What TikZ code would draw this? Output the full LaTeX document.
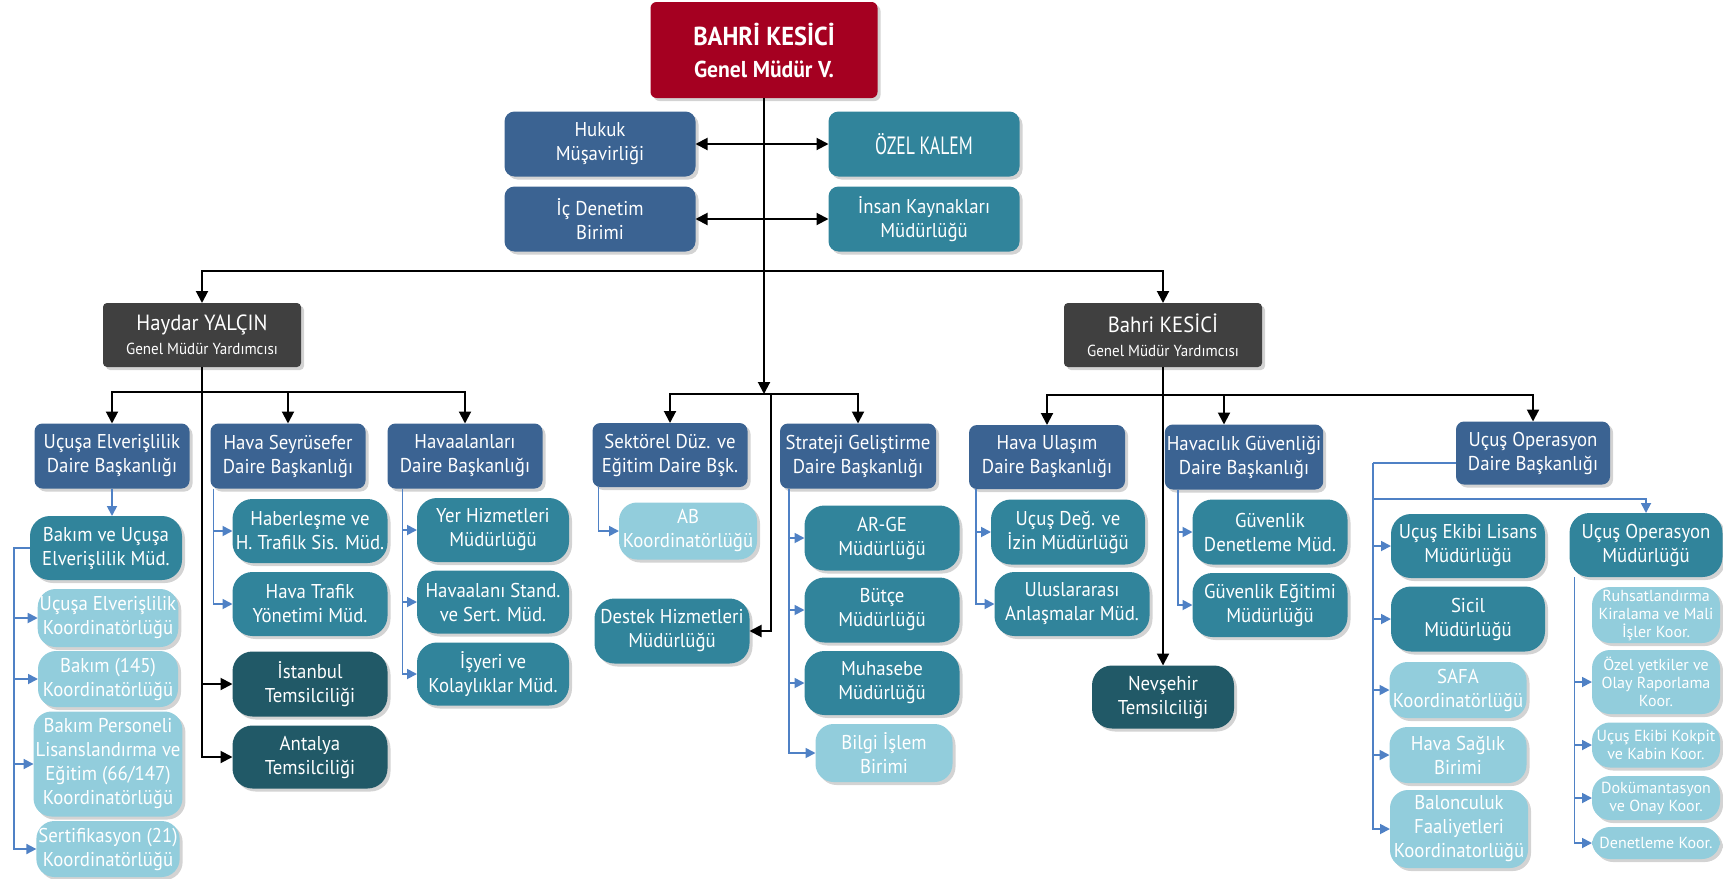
\documentclass[tikz,border=0pt]{standalone}
\usepackage{fontspec}
\usepackage{graphicx}
\setmainfont{PT Sans}[FakeStretch=0.94]
\newfontfamily\genis{PT Sans}
\usetikzlibrary{arrows.meta,shadows}

\definecolor{kirmizi}{HTML}{A50021}
\definecolor{lacivert}{HTML}{3B6392}
\definecolor{turkuaz}{HTML}{31849B}
\definecolor{koyuturkuaz}{HTML}{215967}
\definecolor{acikmavi}{HTML}{92CDDC}
\definecolor{koyugri}{HTML}{404040}
\definecolor{hatmavi}{HTML}{4F81C5}

\tikzset{
  kutu/.style={text=white, align=center, inner sep=1pt, outer sep=0pt,
    drop shadow={shadow xshift=1.5pt, shadow yshift=-1.5pt, opacity=0.35},
    font=\fontsize{10}{12}\selectfont},
  boy/.style 2 args={minimum width=#1*0.5pt, minimum height=#2*0.5pt},
  genelmudur/.style={kutu, fill=kirmizi, rounded corners=3pt, boy={227}{96}},
  kurmay/.style={kutu, rounded corners=5pt, boy={191}{65}},
  yardimci/.style={kutu, fill=koyugri, rounded corners=2pt, boy={198}{64}},
  daire/.style={kutu, fill=lacivert, rounded corners=4pt, boy={155}{65}},
  mudurluk/.style={kutu, fill=turkuaz, rounded corners=10pt, boy={155}{64}},
  temsil/.style={kutu, fill=koyuturkuaz, rounded corners=10pt, boy={155}{64}},
  koord/.style={kutu, fill=acikmavi, rounded corners=9pt, boy={140}{57}},
  kucuk/.style={koord, boy={128}{56}, font=\genis\fontsize{8}{9}\selectfont},
  ok/.style={draw=black, line width=1pt, -{Triangle[length=6pt,width=6pt]}},
  cift/.style={ok, {Triangle[length=6pt,width=6pt]}-{Triangle[length=6pt,width=6pt]}},
  mavi/.style={draw=hatmavi, line width=0.9pt},
  maviok/.style={mavi, -{Triangle[length=5pt,width=5pt]}}
}

\begin{document}
\begin{tikzpicture}[x=0.5pt, y=-0.5pt]
\useasboundingbox (0,0) rectangle (1723,878);

% ust kademe
\node[genelmudur] (gm) at (764,50) {{\fontsize{13}{15}\selectfont\bfseries BAHRİ KESİCİ}\\[4pt]{\fontsize{11.5}{13}\selectfont\bfseries Genel Müdür V.}};
\node[kurmay, fill=lacivert] (hukuk) at (600,144) {Hukuk\\Müşavirliği};
\node[kurmay, fill=turkuaz] (ozel) at (924,144) {\scalebox{0.75}[1]{\fontsize{12.5}{14}\selectfont ÖZEL KALEM}};
\node[kurmay, fill=lacivert] (icden) at (600,219) {İç Denetim\\Birimi};
\node[kurmay, fill=turkuaz] (insan) at (924,219) {İnsan Kaynakları\\Müdürlüğü};

\node[yardimci] (haydar) at (202,335) {{\fontsize{11}{13}\selectfont Haydar YALÇIN}\\{\fontsize{8}{10}\selectfont Genel Müdür Yardımcısı}};
\node[yardimci] (bahri) at (1163,335) {{\fontsize{11}{13}\selectfont Bahri KESİCİ}\\{\fontsize{8}{10}\selectfont Genel Müdür Yardımcısı}};

% sol kol
\node[daire] (uedb) at (112,456) {Uçuşa Elverişlilik\\Daire Başkanlığı};
\node[daire] (hsdb) at (288,456) {Hava Seyrüsefer\\Daire Başkanlığı};
\node[daire] (hadb) at (465,456) {Havaalanları\\Daire Başkanlığı};
\node[mudurluk, boy={152}{64}] (bakim) at (106,548) {Bakım ve Uçuşa\\Elverişlilik Müd.};
\node[koord, boy={140}{58}] (ucel) at (108,618) {Uçuşa Elverişlilik\\Koordinatörlüğü};
\node[koord, boy={140}{56}] (bak145) at (108,679) {Bakım (145)\\Koordinatörlüğü};
\node[koord, boy={140}{105}] (bakper) at (108,764) {Bakım Personeli\\Lisanslandırma ve\\Eğitim (66/147)\\Koordinatörlüğü};
\node[koord, boy={140}{56}] (sert) at (108,849) {Sertifikasyon (21)\\Koordinatörlüğü};
\node[mudurluk] (hab) at (310,531) {Haberleşme ve\\H. Trafilk Sis. Müd.};
\node[mudurluk] (htr) at (310,604) {Hava Trafik\\Yönetimi Müd.};
\node[temsil, boy={155}{65}] (istanbul) at (310,684) {İstanbul\\Temsilciliği};
\node[temsil, boy={155}{63}] (antalya) at (310,757) {Antalya\\Temsilciliği};
\node[mudurluk, boy={152}{64}] (yer) at (493,530) {Yer Hizmetleri\\Müdürlüğü};
\node[mudurluk, boy={152}{63}] (stand) at (493,602) {Havaalanı Stand.\\ve Sert. Müd.};
\node[mudurluk, boy={152}{63}] (isyeri) at (493,674) {İşyeri ve\\Kolaylıklar Müd.};

% orta kol
\node[daire, boy={155}{64}] (sekdb) at (670,455) {Sektörel Düz. ve\\Eğitim Daire Bşk.};
\node[daire, boy={156}{65}] (strdb) at (858,456) {Strateji Geliştirme\\Daire Başkanlığı};
\node[koord, boy={138}{57}] (ab) at (688,531) {AB\\Koordinatörlüğü};
\node[mudurluk, boy={155}{65}] (destek) at (672,631) {Destek Hizmetleri\\Müdürlüğü};
\node[mudurluk, boy={155}{65}] (arge) at (882,538) {AR-GE\\Müdürlüğü};
\node[mudurluk, boy={155}{65}] (butce) at (882,610) {Bütçe\\Müdürlüğü};
\node[mudurluk] (muh) at (882,683) {Muhasebe\\Müdürlüğü};
\node[koord, boy={137}{58}] (bilgi) at (884,753) {Bilgi İşlem\\Birimi};

% sag kol
\node[daire, boy={156}{64}] (hudb) at (1047,457) {Hava Ulaşım\\Daire Başkanlığı};
\node[daire] (hgdb) at (1244,457) {Havacılık Güvenliği\\Daire Başkanlığı};
\node[daire, boy={154}{63}] (uodb) at (1533,453) {Uçuş Operasyon\\Daire Başkanlığı};
\node[mudurluk, boy={154}{65}] (udeg) at (1068,532) {Uçuş Değ. ve\\İzin Müdürlüğü};
\node[mudurluk] (ulus) at (1072,604) {Uluslararası\\Anlaşmalar Müd.};
\node[mudurluk, boy={155}{65}] (gden) at (1270,532) {Güvenlik\\Denetleme Müd.};
\node[mudurluk] (gegt) at (1270,605) {Güvenlik Eğitimi\\Müdürlüğü};
\node[temsil, boy={142}{63}] (nevsehir) at (1163,697) {Nevşehir\\Temsilciliği};
\node[mudurluk, boy={154}{64}] (uel) at (1468,546) {Uçuş Ekibi Lisans\\Müdürlüğü};
\node[mudurluk, boy={154}{65}] (sicil) at (1468,619) {Sicil\\Müdürlüğü};
\node[koord, boy={137}{56}] (safa) at (1458,690) {SAFA\\Koordinatörlüğü};
\node[koord, boy={137}{56}] (saglik) at (1458,755) {Hava Sağlık\\Birimi};
\node[koord, boy={138}{78}] (balon) at (1459,829) {Balonculuk\\Faaliyetleri\\Koordinatorlüğü};
\node[mudurluk, boy={153}{64}] (uomud) at (1646,545) {Uçuş Operasyon\\Müdürlüğü};
\node[kucuk] (ruhsat) at (1656,615) {Ruhsatlandırma\\Kiralama ve Mali\\İşler Koor.};
\node[kucuk, boy={128}{64}] (ozely) at (1656,682) {Özel yetkiler ve\\Olay Raporlama\\Koor.};
\node[kucuk, boy={128}{45}] (kokpit) at (1656,745) {Uçuş Ekibi Kokpit\\ve Kabin Koor.};
\node[kucuk, boy={128}{44}] (dokum) at (1656,798) {Dokümantasyon\\ve Onay Koor.};
\node[kucuk, boy={128}{32}] (denet) at (1656,843) {Denetleme Koor.};

% siyah baglantilar
\coordinate (ust) at (764,271);
\coordinate (orta) at (764,394);
\coordinate (orta2) at (771,394);
\coordinate (hbar) at (202,392);
\coordinate (bbar) at (1163,395);
\draw[ok] (gm.south) -- (orta);
\draw[cift] (hukuk) -- (ozel);
\draw[cift] (icden) -- (insan);
\draw[ok] (ust) -| (haydar.north);
\draw[ok] (ust) -| (bahri.north);
\draw[ok] (orta) -| (sekdb.north);
\draw[ok] (orta) -| (strdb.north);
\draw[ok] (orta2) |- (destek.east);
\draw[ok] (hbar) -| (uedb.north);
\draw[ok] (hbar) -| (hsdb.north);
\draw[ok] (hbar) -| (hadb.north);
\draw[ok] (haydar.south) |- (antalya.west);
\draw[ok] (haydar.south |- istanbul.west) -- (istanbul.west);
\draw[ok] (bahri.south) -- (nevsehir.north);
\draw[ok] (bbar) -| (hudb.north);
\draw[ok] (bbar) -| ([xshift=-10pt]hgdb.north);
\draw[ok] (bbar) -| (uodb.north);

% mavi baglantilar
\draw[maviok] (uedb.south) -- (uedb.south |- bakim.north);
\draw[maviok] (bakim.west) -- ++(-16,0) coordinate (bk) |- (sert.west);
\foreach \n in {ucel,bak145,bakper} \draw[maviok] (bk |- \n.west) -- (\n.west);

\coordinate (hs) at ([xshift=1.5pt]hsdb.south west);
\draw[maviok] (hs) |- (htr.west);
\draw[maviok] (hs |- hab.west) -- (hab.west);

\coordinate (ha) at ([xshift=7.5pt]hadb.south west);
\draw[maviok] (ha) |- (isyeri.west);
\foreach \n in {yer,stand} \draw[maviok] (ha |- \n.west) -- (\n.west);

\coordinate (se) at ([xshift=3pt]sekdb.south west);
\draw[maviok] (se) |- (ab.west);

\coordinate (st) at ([xshift=4.5pt]strdb.south west);
\draw[maviok] (st) |- (bilgi.west);
\foreach \n in {arge,butce,muh} \draw[maviok] (st |- \n.west) -- (\n.west);

\coordinate (hu) at ([xshift=3.5pt]hudb.south west);
\draw[maviok] (hu) |- (ulus.west);
\draw[maviok] (hu |- udeg.west) -- (udeg.west);

\coordinate (hg) at ([xshift=6.5pt]hgdb.south west);
\draw[maviok] (hg) |- (gegt.west);
\draw[maviok] (hg |- gden.west) -- (gden.west);

\coordinate (uo) at (1373,463);
\coordinate (uobar) at (1373,499);
\draw[mavi] ([yshift=-5pt]uodb.west) -- (uo);
\draw[maviok] (uo) |- (balon.west);
\foreach \n in {uel,sicil,safa,saglik} \draw[maviok] (uo |- \n.west) -- (\n.west);
\draw[maviok] (uobar) -| (uomud.north);

\coordinate (um) at ([xshift=2.5pt]uomud.south west);
\draw[maviok] (um) |- (denet.west);
\foreach \n in {ozely,kokpit,dokum} \draw[maviok] (um |- \n.west) -- (\n.west);
\end{tikzpicture}
\end{document}
